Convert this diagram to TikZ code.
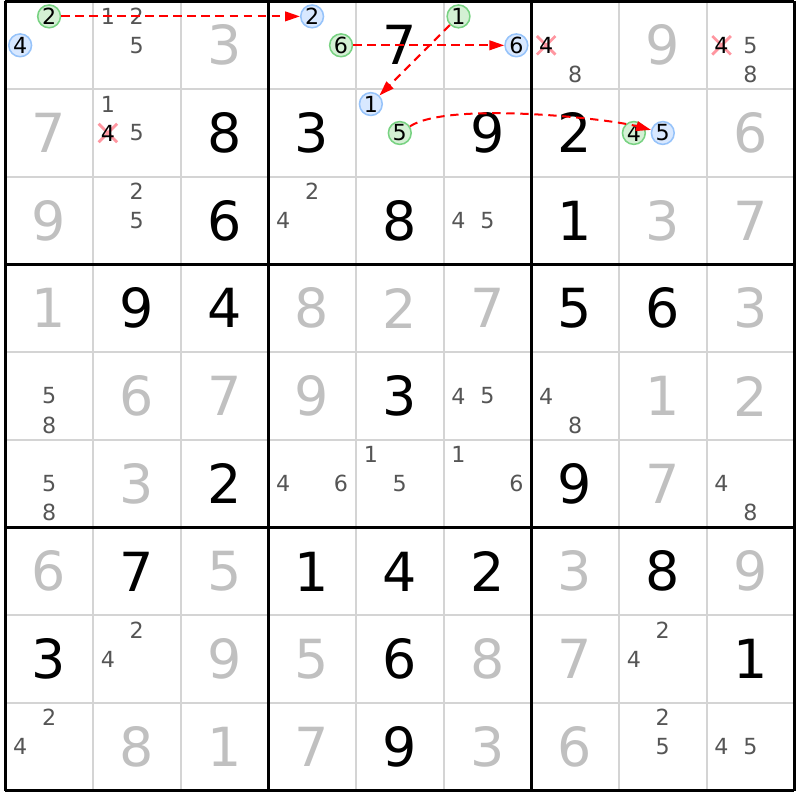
\documentclass[tikz,border=0pt]{standalone}
\usepackage{fontspec}
\setmainfont{DejaVu Sans}
\usetikzlibrary{arrows.meta,shapes.misc}

\definecolor{palegray}{RGB}{192,192,192}
\definecolor{candgray}{RGB}{85,85,85}
\definecolor{gridgray}{RGB}{212,212,212}
\definecolor{grnline}{RGB}{120,210,130}
\definecolor{grnfill}{RGB}{212,240,212}
\definecolor{bluline}{RGB}{150,195,250}
\definecolor{blufill}{RGB}{216,232,255}
\definecolor{xpink}{RGB}{255,150,160}

\begin{document}
\begin{tikzpicture}[
    given/.style={font=\fontsize{17.5}{17.5}\selectfont, inner sep=0pt},
    solved/.style={given, text=palegray},
    cand/.style={font=\fontsize{7.2}{7.2}\selectfont, text=candgray, inner sep=0pt},
    grncand/.style={cand, text=black, circle, draw=grnline, fill=grnfill, line width=0.5pt, minimum size=0.26cm},
    blucand/.style={cand, text=black, circle, draw=bluline, fill=blufill, line width=0.5pt, minimum size=0.26cm},
    xmark/.style={cross out, draw=xpink, line width=0.9pt, minimum width=0.18cm, minimum height=0.18cm, inner sep=0pt},
    struck/.style={cand, text=black},
    link/.style={red, line width=0.65pt, dash pattern=on 2.7pt off 1.85pt, -{Triangle[length=0.17cm,width=0.11cm]}}
  ]
  \useasboundingbox (-0.06,-0.108) rectangle (9.063,9.017);
  % grid
  \draw[gridgray, line width=0.65pt] (0,0) grid (9,9);
  \draw[black, line width=0.9pt, step=3] (0,0) grid (9,9);

  % row 1
  \node[grncand] (r1c1n2) at (0.5,8.83) {2};
  \node[blucand] (r1c1n4) at (0.17,8.5) {4};
  \node[cand] (r1c2n1) at (1.17,8.83) {1};
  \node[cand] (r1c2n2) at (1.5,8.83) {2};
  \node[cand] (r1c2n5) at (1.5,8.5) {5};
  \node[solved] (r1c3) at (2.5,8.5) {3};
  \node[blucand] (r1c4n2) at (3.5,8.83) {2};
  \node[grncand] (r1c4n6) at (3.83,8.5) {6};
  \node[given] (r1c5) at (4.5,8.5) {7};
  \node[grncand] (r1c6n1) at (5.17,8.83) {1};
  \node[blucand] (r1c6n6) at (5.83,8.5) {6};
  \node[xmark] (r1c7x4) at (6.17,8.5) {};
  \node[struck] (r1c7n4) at (6.17,8.5) {4};
  \node[cand] (r1c7n8) at (6.5,8.17) {8};
  \node[solved] (r1c8) at (7.5,8.5) {9};
  \node[xmark] (r1c9x4) at (8.17,8.5) {};
  \node[struck] (r1c9n4) at (8.17,8.5) {4};
  \node[cand] (r1c9n5) at (8.5,8.5) {5};
  \node[cand] (r1c9n8) at (8.5,8.17) {8};

  % row 2
  \node[solved] (r2c1) at (0.5,7.5) {7};
  \node[cand] (r2c2n1) at (1.17,7.83) {1};
  \node[xmark] (r2c2x4) at (1.17,7.5) {};
  \node[struck] (r2c2n4) at (1.17,7.5) {4};
  \node[cand] (r2c2n5) at (1.5,7.5) {5};
  \node[given] (r2c3) at (2.5,7.5) {8};
  \node[given] (r2c4) at (3.5,7.5) {3};
  \node[blucand] (r2c5n1) at (4.17,7.83) {1};
  \node[grncand] (r2c5n5) at (4.5,7.5) {5};
  \node[given] (r2c6) at (5.5,7.5) {9};
  \node[given] (r2c7) at (6.5,7.5) {2};
  \node[grncand] (r2c8n4) at (7.17,7.5) {4};
  \node[blucand] (r2c8n5) at (7.5,7.5) {5};
  \node[solved] (r2c9) at (8.5,7.5) {6};

  % row 3
  \node[solved] (r3c1) at (0.5,6.5) {9};
  \node[cand] (r3c2n2) at (1.5,6.83) {2};
  \node[cand] (r3c2n5) at (1.5,6.5) {5};
  \node[given] (r3c3) at (2.5,6.5) {6};
  \node[cand] (r3c4n2) at (3.5,6.83) {2};
  \node[cand] (r3c4n4) at (3.17,6.5) {4};
  \node[given] (r3c5) at (4.5,6.5) {8};
  \node[cand] (r3c6n4) at (5.17,6.5) {4};
  \node[cand] (r3c6n5) at (5.5,6.5) {5};
  \node[given] (r3c7) at (6.5,6.5) {1};
  \node[solved] (r3c8) at (7.5,6.5) {3};
  \node[solved] (r3c9) at (8.5,6.5) {7};

  % row 4
  \node[solved] (r4c1) at (0.5,5.5) {1};
  \node[given] (r4c2) at (1.5,5.5) {9};
  \node[given] (r4c3) at (2.5,5.5) {4};
  \node[solved] (r4c4) at (3.5,5.5) {8};
  \node[solved] (r4c5) at (4.5,5.5) {2};
  \node[solved] (r4c6) at (5.5,5.5) {7};
  \node[given] (r4c7) at (6.5,5.5) {5};
  \node[given] (r4c8) at (7.5,5.5) {6};
  \node[solved] (r4c9) at (8.5,5.5) {3};

  % row 5
  \node[cand] (r5c1n5) at (0.5,4.5) {5};
  \node[cand] (r5c1n8) at (0.5,4.17) {8};
  \node[solved] (r5c2) at (1.5,4.5) {6};
  \node[solved] (r5c3) at (2.5,4.5) {7};
  \node[solved] (r5c4) at (3.5,4.5) {9};
  \node[given] (r5c5) at (4.5,4.5) {3};
  \node[cand] (r5c6n4) at (5.17,4.5) {4};
  \node[cand] (r5c6n5) at (5.5,4.5) {5};
  \node[cand] (r5c7n4) at (6.17,4.5) {4};
  \node[cand] (r5c7n8) at (6.5,4.17) {8};
  \node[solved] (r5c8) at (7.5,4.5) {1};
  \node[solved] (r5c9) at (8.5,4.5) {2};

  % row 6
  \node[cand] (r6c1n5) at (0.5,3.5) {5};
  \node[cand] (r6c1n8) at (0.5,3.17) {8};
  \node[solved] (r6c2) at (1.5,3.5) {3};
  \node[given] (r6c3) at (2.5,3.5) {2};
  \node[cand] (r6c4n4) at (3.17,3.5) {4};
  \node[cand] (r6c4n6) at (3.83,3.5) {6};
  \node[cand] (r6c5n1) at (4.17,3.83) {1};
  \node[cand] (r6c5n5) at (4.5,3.5) {5};
  \node[cand] (r6c6n1) at (5.17,3.83) {1};
  \node[cand] (r6c6n6) at (5.83,3.5) {6};
  \node[given] (r6c7) at (6.5,3.5) {9};
  \node[solved] (r6c8) at (7.5,3.5) {7};
  \node[cand] (r6c9n4) at (8.17,3.5) {4};
  \node[cand] (r6c9n8) at (8.5,3.17) {8};

  % row 7
  \node[solved] (r7c1) at (0.5,2.5) {6};
  \node[given] (r7c2) at (1.5,2.5) {7};
  \node[solved] (r7c3) at (2.5,2.5) {5};
  \node[given] (r7c4) at (3.5,2.5) {1};
  \node[given] (r7c5) at (4.5,2.5) {4};
  \node[given] (r7c6) at (5.5,2.5) {2};
  \node[solved] (r7c7) at (6.5,2.5) {3};
  \node[given] (r7c8) at (7.5,2.5) {8};
  \node[solved] (r7c9) at (8.5,2.5) {9};

  % row 8
  \node[given] (r8c1) at (0.5,1.5) {3};
  \node[cand] (r8c2n2) at (1.5,1.83) {2};
  \node[cand] (r8c2n4) at (1.17,1.5) {4};
  \node[solved] (r8c3) at (2.5,1.5) {9};
  \node[solved] (r8c4) at (3.5,1.5) {5};
  \node[given] (r8c5) at (4.5,1.5) {6};
  \node[solved] (r8c6) at (5.5,1.5) {8};
  \node[solved] (r8c7) at (6.5,1.5) {7};
  \node[cand] (r8c8n2) at (7.5,1.83) {2};
  \node[cand] (r8c8n4) at (7.17,1.5) {4};
  \node[given] (r8c9) at (8.5,1.5) {1};

  % row 9
  \node[cand] (r9c1n2) at (0.5,0.83) {2};
  \node[cand] (r9c1n4) at (0.17,0.5) {4};
  \node[solved] (r9c2) at (1.5,0.5) {8};
  \node[solved] (r9c3) at (2.5,0.5) {1};
  \node[solved] (r9c4) at (3.5,0.5) {7};
  \node[given] (r9c5) at (4.5,0.5) {9};
  \node[solved] (r9c6) at (5.5,0.5) {3};
  \node[solved] (r9c7) at (6.5,0.5) {6};
  \node[cand] (r9c8n2) at (7.5,0.83) {2};
  \node[cand] (r9c8n5) at (7.5,0.5) {5};
  \node[cand] (r9c9n4) at (8.17,0.5) {4};
  \node[cand] (r9c9n5) at (8.5,0.5) {5};

  % links
  \draw[link] (r1c1n2) -- (r1c4n2);
  \draw[link] (r1c4n6) -- (r1c6n6);
  \draw[link] (r1c6n1) -- (r2c5n1);
  \draw[link] (r2c5n5) .. controls (5.05,7.86) and (6.85,7.67) .. (r2c8n5);
\end{tikzpicture}
\end{document}
